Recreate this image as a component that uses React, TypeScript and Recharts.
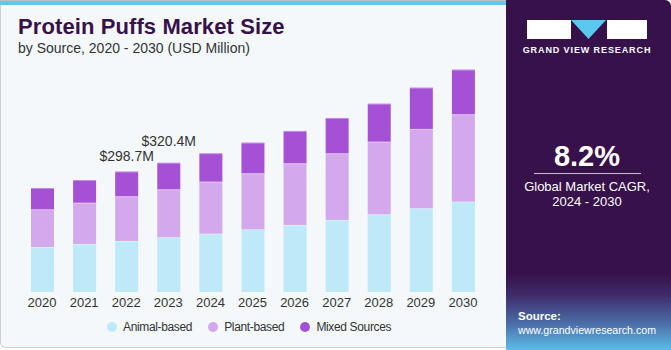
import React from "react";
import { BarChart, Bar, XAxis, YAxis, LabelList } from "recharts";

const years = ["2020", "2021", "2022", "2023", "2024", "2025", "2026", "2027", "2028", "2029", "2030"];
const animalBased = [111.6, 119.0, 126.5, 135.6, 144.6, 155.5, 166.2, 178.6, 192.7, 207.6, 224.0];
const plantBased = [93.5, 102.4, 110.9, 119.0, 129.0, 138.9, 153.0, 165.4, 180.0, 196.7, 216.8];
const mixedSources = [52.8, 56.3, 61.3, 65.8, 70.4, 75.9, 80.1, 87.5, 94.2, 102.4, 110.6];
const totalLabels = ["", "", "$298.7M", "$320.4M", "", "", "", "", "", "", ""];
const seriesNames = ["Animal-based", "Plant-based", "Mixed Sources"];
const seriesColors = ["#BEE9F9", "#D4A8EC", "#A551D6"];

const data = years.map((y, i) => ({
  year: y,
  animal: animalBased[i],
  plant: plantBased[i],
  mixed: mixedSources[i],
  label: totalLabels[i],
}));

const font = "'Liberation Sans', Arial, sans-serif";

const SegShape = (props: any) => {
  const { x, y, width, height, fill } = props;
  if (!height || height <= 0) return null;
  return (
    <g>
      <rect x={x} y={y} width={width} height={height} fill={fill} />
      <rect x={x} y={y} width={width} height={1} fill="#ffffff" fillOpacity={0.35} />
    </g>
  );
};

const TopLabel = (props: any) => {
  const { x, y, width, value, index } = props;
  if (!value) return null;
  const lift = index === 3 ? 17 : 11;
  return (
    <text x={x + width / 2} y={y - lift} textAnchor="middle" fontSize={14} fill="#333" fontFamily={font}>
      {value}
    </text>
  );
};

export default function App() {
  return (
    <div style={{ position: "absolute", left: 0, top: 0, width: 671, height: 350, overflow: "hidden", fontFamily: font }}>
      <div
        style={{
          position: "absolute",
          left: 0,
          top: 0,
          width: 508,
          height: 348,
          background: "#F4F8FB",
          border: "1px solid #CFCFCF",
          borderTop: "none",
          borderBottomLeftRadius: 6,
          boxSizing: "border-box",
        }}
      />
      <div style={{ position: "absolute", left: 0, top: 0, width: 508, height: 1, background: "#BFBFBF" }} />
      <div style={{ position: "absolute", left: 0, top: 1, width: 508, height: 4, background: "#5BC8F0" }} />
      <div
        style={{
          position: "absolute",
          left: 18,
          top: 14,
          fontSize: 22,
          fontWeight: 900,
          color: "#37114A",
          whiteSpace: "nowrap",
          letterSpacing: 0.1,
        }}
      >
        Protein Puffs Market Size
      </div>
      <div style={{ position: "absolute", left: 18, top: 40, fontSize: 14, color: "#333", whiteSpace: "nowrap" }}>
        by Source, 2020 - 2030 (USD Million)
      </div>

      <div style={{ position: "absolute", left: 0, top: 0 }}>
        <BarChart width={506} height={350} data={data} margin={{ top: 50, right: 22, bottom: 38, left: 21 }} barSize={23}>
          <XAxis
            dataKey="year"
            axisLine={false}
            tickLine={false}
            tickSize={0}
            tickMargin={6}
            height={20}
            interval={0}
            tick={{ fontSize: 13, fill: "#333", fontFamily: font }}
          />
          <YAxis hide domain={[0, 600]} />
          <Bar dataKey="animal" stackId="a" fill={seriesColors[0]} shape={SegShape} isAnimationActive={false} />
          <Bar dataKey="plant" stackId="a" fill={seriesColors[1]} shape={SegShape} isAnimationActive={false} />
          <Bar dataKey="mixed" stackId="a" fill={seriesColors[2]} shape={SegShape} isAnimationActive={false}>
            <LabelList dataKey="label" content={TopLabel} />
          </Bar>
        </BarChart>
      </div>

      <div style={{ position: "absolute", left: 107, top: 320, display: "flex", alignItems: "center" }}>
        {seriesNames.map((n, i) => (
          <div key={n} style={{ display: "flex", alignItems: "center", marginRight: i < seriesNames.length - 1 ? 16 : 0 }}>
            <span style={{ width: 10, height: 10, borderRadius: 5, background: seriesColors[i], display: "inline-block", marginRight: 6 }} />
            <span style={{ fontSize: 12, letterSpacing: -0.35, color: "#333" }}>{n}</span>
          </div>
        ))}
      </div>

      <div
        style={{
          position: "absolute",
          left: 506,
          top: 0,
          width: 165,
          height: 350,
          background: "linear-gradient(to bottom, #36114A 0%, #36114A 78%, #3E2A68 84%, #4A6AA4 92%, #5CBCE8 100%)",
          borderTopRightRadius: 6,
          overflow: "hidden",
        }}
      >
        <svg width={165} height={350} style={{ position: "absolute", left: 0, top: 0 }}>
          <rect x={21} y={20} width={44} height={19} fill="#fff" />
          <polygon points="65,20 100,20 82.5,39" fill="#5BC8F0" />
          <rect x={101} y={20} width={40} height={19} fill="#fff" />
          <text x={81} y={53} textAnchor="middle" fontSize={9} fontWeight={700} fill="#fff" letterSpacing={0.9} fontFamily={font}>
            GRAND VIEW RESEARCH
          </text>
          <text x={81} y={166} textAnchor="middle" fontSize={29} fontWeight={700} fill="#fff" fontFamily={font}>
            8.2%
          </text>
          <line x1={28} x2={135} y1={173.5} y2={173.5} stroke="#C8C0D0" strokeWidth={1} />
          <text x={81} y={191} textAnchor="middle" fontSize={13} fill="#fff" fontFamily={font}>
            Global Market CAGR,
          </text>
          <text x={81} y={206} textAnchor="middle" fontSize={13} fill="#fff" fontFamily={font}>
            2024 - 2030
          </text>
          <text x={12} y={320} fontSize={11.5} fontWeight={700} fill="#fff" fontFamily={font}>
            Source:
          </text>
          <text x={12} y={334} fontSize={11.5} fill="#fff" fontFamily={font} textLength={138} lengthAdjust="spacingAndGlyphs">
            www.grandviewresearch.com
          </text>
        </svg>
      </div>
    </div>
  );
}
